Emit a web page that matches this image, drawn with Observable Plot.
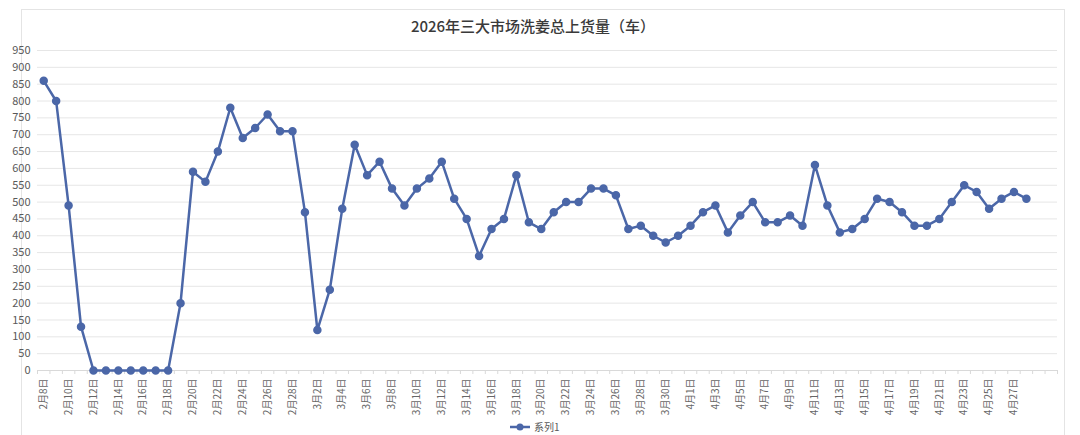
<!DOCTYPE html>
<html><head><meta charset="utf-8">
<script src="https://cdn.jsdelivr.net/npm/d3@7"></script>
<script src="https://cdn.jsdelivr.net/npm/@observablehq/plot@0.6"></script>
<style>
body{margin:0;background:#fff;font-family:"Noto Sans CJK SC","Noto Sans",sans-serif;}
#wrap{position:relative;width:1080px;height:435px;overflow:hidden;background:#fff;}
#frame{position:absolute;left:21px;top:9px;width:1042px;height:440px;border:1px solid #e4e4e4;}
#title{position:absolute;left:0;top:16px;width:1066px;text-align:center;font-size:15px;line-height:20px;color:#3a3a3a;font-weight:500;}
#chart{position:absolute;left:0;top:40px;}
#legend{position:absolute;top:420px;left:509px;font-size:10px;line-height:14px;color:#595959;display:flex;align-items:center;gap:3px;}
</style>
</head><body>
<div id="wrap">
  <div id="frame"></div>
  <div id="title"></div>
  <div id="chart"></div>
  <div id="legend"></div>
</div>
<script>
const titleText = "2026年三大市场洗姜总上货量（车）";
const seriesName = "系列1";
const categories = [
"2月8日","2月9日","2月10日","2月11日","2月12日","2月13日","2月14日","2月15日","2月16日","2月17日","2月18日","2月19日","2月20日","2月21日","2月22日","2月23日","2月24日","2月25日","2月26日","2月27日","2月28日",
"3月1日","3月2日","3月3日","3月4日","3月5日","3月6日","3月7日","3月8日","3月9日","3月10日","3月11日","3月12日","3月13日","3月14日","3月15日","3月16日","3月17日","3月18日","3月19日","3月20日","3月21日","3月22日","3月23日","3月24日","3月25日","3月26日","3月27日","3月28日","3月29日","3月30日","3月31日",
"4月1日","4月2日","4月3日","4月4日","4月5日","4月6日","4月7日","4月8日","4月9日","4月10日","4月11日","4月12日","4月13日","4月14日","4月15日","4月16日","4月17日","4月18日","4月19日","4月20日","4月21日","4月22日","4月23日","4月24日","4月25日","4月26日","4月27日","4月28日","4月29日","4月30日"];
const values = [
860,800,490,130,0,0,0,0,0,0,0,200,590,560,650,780,690,720,760,710,710,
470,120,240,480,670,580,620,540,490,540,570,620,510,450,340,420,450,580,440,420,470,500,500,540,540,520,420,430,400,380,400,
430,470,490,410,460,500,440,440,460,430,610,490,410,420,450,510,500,470,430,430,450,500,550,530,480,510,530,510];
const yTicks = [0,50,100,150,200,250,300,350,400,450,500,550,600,650,700,750,800,850,900,950];

const color = "#4b67a8";
const data = values.map((v,i)=>({date:categories[i], value:v}));

document.getElementById("title").textContent = titleText;

const W = 1080, mL = 37, mR = 23;
const halfStep = (W - mL - mR) / categories.length / 2;
const labelled = new Set(categories.filter((d,i) => i % 2 === 0 && i < values.length));

const chart = Plot.plot({
  width:W, height:375,
  marginLeft:mL, marginRight:mR, marginTop:10, marginBottom:45,
  style:{fontFamily:'"Noto Sans CJK SC","Noto Sans",sans-serif', background:"transparent"},
  x:{type:"point", domain:categories, padding:0.5, label:null},
  y:{domain:[0,950], label:null},
  marks:[
    Plot.gridY(yTicks,{stroke:"#e6e6e6", strokeOpacity:1}),
    Plot.ruleY([0],{stroke:"#d9d9d9"}),
    Plot.axisY(yTicks,{tickSize:0, tickPadding:7, fontSize:11, fill:"#595959", label:null}),
    Plot.axisX(categories,{text:null, tickSize:4, dx:-halfStep, stroke:"#d9d9d9", label:null}),
    Plot.axisX(categories.slice(-1),{text:null, tickSize:4, dx:halfStep, stroke:"#d9d9d9", label:null}),
    Plot.axisX(categories,{tickRotate:-90, tickSize:0, tickPadding:8, fontSize:10, fill:"#666666", label:null,
      tickFormat: d => labelled.has(d) ? d : ""}),
    Plot.line(data,{x:"date", y:"value", stroke:color, strokeWidth:2.5}),
    Plot.dot(data,{x:"date", y:"value", r:3.5, fill:color, stroke:color})
  ]
});
document.getElementById("chart").appendChild(chart);

const lg = document.getElementById("legend");
lg.innerHTML = `<svg width="22" height="10"><line x1="1" y1="5" x2="21" y2="5" stroke="${color}" stroke-width="2.5"/><circle cx="11" cy="5" r="3.5" fill="${color}"/></svg><span></span>`;
lg.querySelector("span").textContent = seriesName;
</script>
</body></html>
